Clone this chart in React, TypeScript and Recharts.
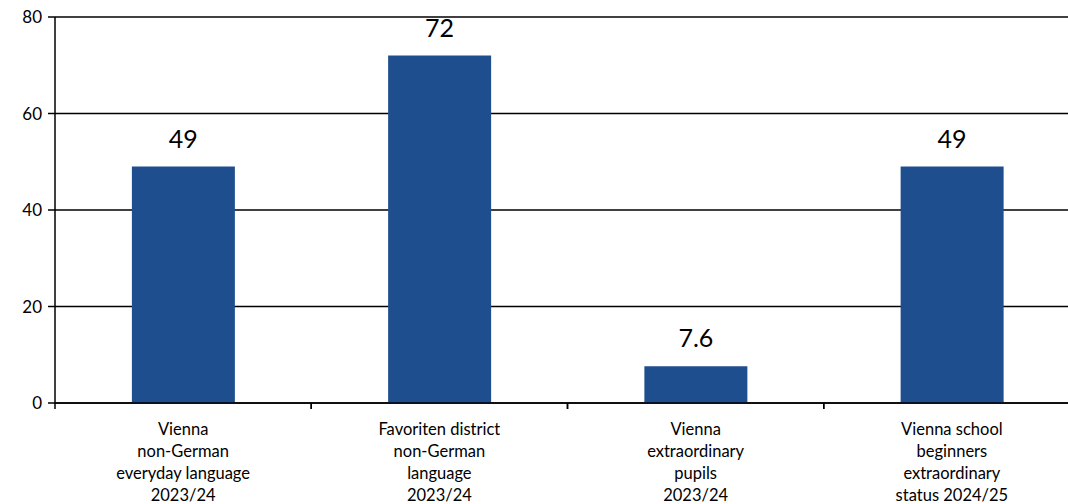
import { Bar, BarChart, CartesianGrid, LabelList, XAxis, YAxis } from "recharts";

const CATEGORIES = [
  "Vienna\nnon-German\neveryday language\n2023/24",
  "Favoriten district\nnon-German\nlanguage\n2023/24",
  "Vienna\nextraordinary\npupils\n2023/24",
  "Vienna school\nbeginners\nextraordinary\nstatus 2024/25",
];
const VALUES = [49, 72, 7.6, 49];
const Y_TICKS = [0, 20, 40, 60, 80];

const FONT = "Lato, 'Open Sans', sans-serif";
const BLUE = "#1F4E8F";

const data = CATEGORIES.map((name, i) => ({ name, value: VALUES[i] }));

// category label plus the small tick marks at the band edges
function CategoryTick(props: any) {
  const { x, y, payload } = props;
  const half = payload.offset ?? 0;
  const lines = String(payload.value).split("\n");
  return (
    <g>
      <line x1={x - half} x2={x - half} y1={y - 6} y2={y} stroke="#000" strokeWidth={1.5} />
      <line x1={x + half} x2={x + half} y1={y - 6} y2={y} stroke="#000" strokeWidth={1.5} />
      <text x={x} y={y} textAnchor="middle" fontFamily={FONT} fontSize={16.5} fill="#000">
        {lines.map((l, i) => (
          <tspan key={i} x={x} y={y + 26 + i * 22}>
            {l}
          </tspan>
        ))}
      </text>
    </g>
  );
}

export default function App() {
  return (
    <div
      style={{
        position: "absolute",
        left: 0,
        top: 0,
        width: 1068,
        height: 504,
        overflow: "hidden",
        background: "#fff",
      }}
    >
      <BarChart
        width={1080}
        height={504}
        data={data}
        margin={{ top: 17, right: 0, bottom: 0, left: 0 }}
        barCategoryGap="30%"
      >
        <CartesianGrid vertical={false} stroke="#000" strokeWidth={1.5} />
        <XAxis
          dataKey="name"
          height={101}
          axisLine={{ stroke: "#000", strokeWidth: 1.5 }}
          tickLine={false}
          tickMargin={0}
          tick={<CategoryTick />}
          interval={0}
        />
        <YAxis
          domain={[0, 80]}
          ticks={Y_TICKS}
          width={55}
          axisLine={{ stroke: "#000", strokeWidth: 1.5 }}
          tickLine={{ stroke: "#000", strokeWidth: 1.5 }}
          tickSize={7}
          tick={{ fontFamily: FONT, fontSize: 17, fill: "#000" }}
          tickMargin={6}
        />
        <Bar dataKey="value" fill={BLUE} isAnimationActive={false}>
          <LabelList
            dataKey="value"
            position="top"
            offset={19}
            fill="#000"
            fontFamily={FONT}
            fontSize={25}
          />
        </Bar>
      </BarChart>
    </div>
  );
}
